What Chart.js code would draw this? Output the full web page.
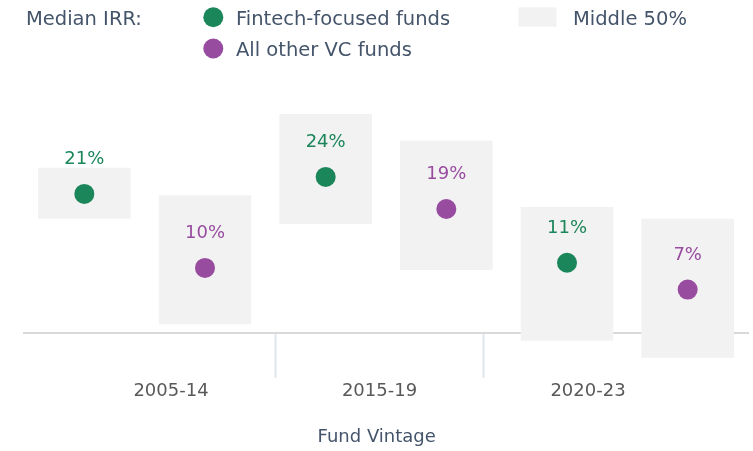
<!DOCTYPE html>
<html>
<head>
<meta charset="utf-8">
<script src="https://cdn.jsdelivr.net/npm/chart.js@4/dist/chart.umd.min.js"></script>
<style>
  html, body { margin: 0; padding: 0; background: #ffffff; }
  #wrap { width: 753px; height: 451px; position: relative; }
</style>
</head>
<body>
<div id="wrap"><canvas id="c" width="753" height="451"></canvas></div>
<script>
// ---- Data ----
const vintages = ['2005-14', '2015-19', '2020-23'];
const slots = ['2005-14 Fintech', '2005-14 Other', '2015-19 Fintech', '2015-19 Other', '2020-23 Fintech', '2020-23 Other'];
const fintechMedian = [21.2, 23.8, 10.7];
const otherMedian = [9.9, 18.9, 6.6];
const middle50Low = [17.4, 1.3, 16.6, 9.6, -1.2, -3.8];
const middle50High = [25.2, 21.0, 33.4, 29.3, 19.2, 17.4];
const axisTitle = 'Fund Vintage';

// ---- Styles ----
const GREEN = '#1b865a';
const PURPLE = '#984ca0';
const BAND = '#f2f2f2';
const TEXT = '#44546a';
const AXIS_TEXT = '#595959';
const FONT = 'DejaVu Sans';

const fintechSeries = [];
const otherSeries = [];
vintages.forEach((v, i) => {
  fintechSeries.push(fintechMedian[i], null);
  otherSeries.push(null, otherMedian[i]);
});
const bandData = middle50Low.map((lo, i) => [lo, middle50High[i]]);

const valueLabels = {
  id: 'valueLabels',
  afterDatasetsDraw(chart) {
    const ctx = chart.ctx;
    chart.data.datasets.forEach((ds, di) => {
      if (ds.type !== 'line') return;
      const meta = chart.getDatasetMeta(di);
      meta.data.forEach((el, i) => {
        const v = ds.data[i];
        if (v === null || v === undefined) return;
        ctx.save();
        ctx.font = '18px "' + FONT + '"';
        ctx.fillStyle = ds.pointBackgroundColor;
        ctx.textAlign = 'center';
        ctx.textBaseline = 'alphabetic';
        ctx.fillText(Math.round(v) + '%', el.x, el.y - 29.5);
        ctx.restore();
      });
    });
  }
};

const customLegend = {
  id: 'customLegend',
  afterDraw(chart) {
    const ctx = chart.ctx;
    ctx.save();
    ctx.font = '19.5px "' + FONT + '"';
    ctx.fillStyle = TEXT;
    ctx.textAlign = 'left';
    ctx.textBaseline = 'alphabetic';
    ctx.fillText('Median IRR:', 26, 24.5);
    ctx.fillStyle = GREEN;
    ctx.beginPath(); ctx.arc(213.3, 17.3, 10, 0, Math.PI * 2); ctx.fill();
    ctx.fillStyle = TEXT;
    ctx.fillText('Fintech-focused funds', 236, 24.5);
    ctx.fillStyle = PURPLE;
    ctx.beginPath(); ctx.arc(213.3, 48.5, 10, 0, Math.PI * 2); ctx.fill();
    ctx.fillStyle = TEXT;
    ctx.fillText('All other VC funds', 236, 55.7);
    ctx.fillStyle = BAND;
    ctx.fillRect(518.5, 7.3, 38, 19.4);
    ctx.fillStyle = TEXT;
    ctx.fillText('Middle 50%', 573, 24.5);
    // axis title
    ctx.font = '18px "' + FONT + '"';
    ctx.textAlign = 'center';
    ctx.textBaseline = 'middle';
    ctx.fillText(axisTitle, 376.7, 437.2);
    ctx.restore();
  }
};

new Chart(document.getElementById('c'), {
  type: 'bar',
  data: {
    labels: slots,
    datasets: [
      {
        type: 'line',
        label: 'Fintech-focused funds',
        data: fintechSeries,
        showLine: false,
        pointRadius: 10,
        pointHoverRadius: 10,
        pointBorderWidth: 0,
        pointBackgroundColor: GREEN,
        borderColor: GREEN,
        clip: false,
        order: 0
      },
      {
        type: 'line',
        label: 'All other VC funds',
        data: otherSeries,
        showLine: false,
        pointRadius: 10,
        pointHoverRadius: 10,
        pointBorderWidth: 0,
        pointBackgroundColor: PURPLE,
        borderColor: PURPLE,
        clip: false,
        order: 0
      },
      {
        type: 'bar',
        label: 'Middle 50%',
        data: bandData,
        backgroundColor: BAND,
        borderWidth: 0,
        barPercentage: 0.767,
        categoryPercentage: 1.0,
        clip: false,
        order: 1
      }
    ]
  },
  options: {
    responsive: false,
    animation: false,
    devicePixelRatio: 1,
    layout: { autoPadding: false, padding: { left: 24, right: 5, top: 103.5, bottom: 45.6 } },
    plugins: {
      legend: { display: false },
      tooltip: { enabled: false }
    },
    scales: {
      x: { display: false, offset: true },
      y: { display: false, min: 0, max: 35 },
      x2: {
        axis: 'x',
        type: 'linear',
        position: 'bottom',
        offset: false,
        min: -0.705,
        max: 2.7674,
        afterBuildTicks(scale) {
          scale.ticks = [0, 0.5, 1, 1.5, 2].map(v => ({ value: v }));
        },
        grid: {
          display: true,
          offset: false,
          drawOnChartArea: false,
          drawTicks: true,
          tickLength: 45,
          tickWidth: 2,
          tickColor: (ctx) => (ctx.tick && ctx.tick.value % 1 !== 0) ? '#dfe5ec' : 'rgba(0,0,0,0)'
        },
        border: { display: true, color: '#d9d9d9', width: 2 },
        ticks: {
          autoSkip: false,
          maxRotation: 0,
          padding: 3,
          color: AXIS_TEXT,
          font: { family: FONT, size: 18 },
          callback: (v) => Number.isInteger(v) ? vintages[v] : ''
        },
        title: { display: false }
      }
    }
  },
  plugins: [valueLabels, customLegend]
});
</script>
</body>
</html>
